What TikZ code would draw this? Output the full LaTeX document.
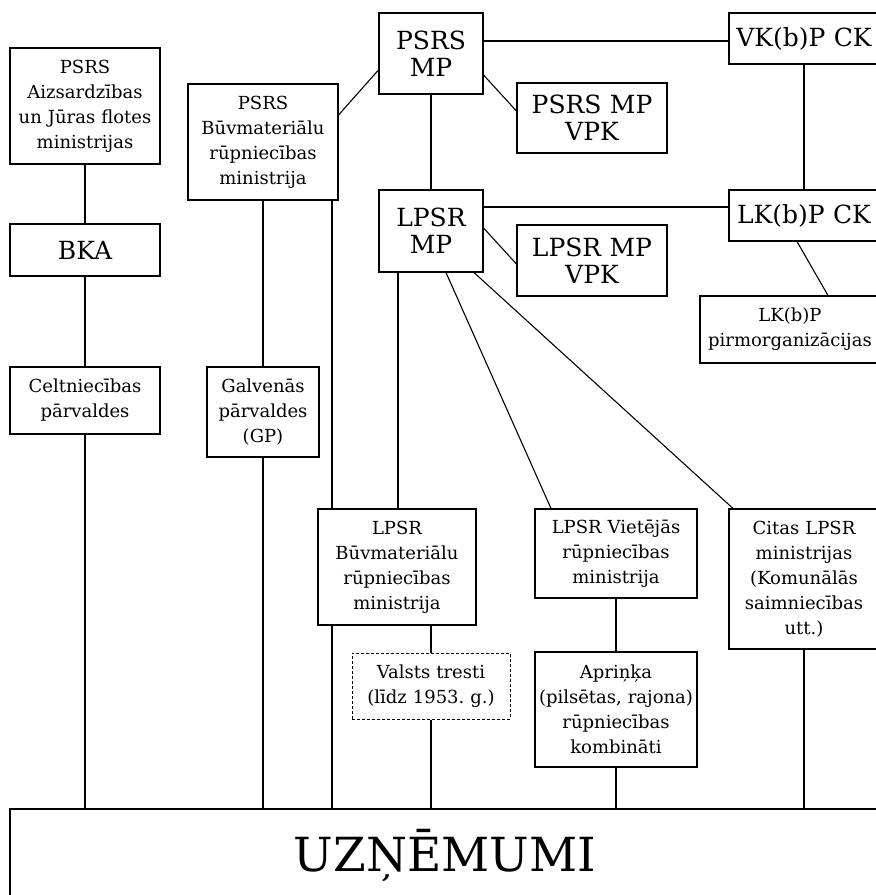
\documentclass[tikz,border=0pt]{standalone}
\usepackage{fontspec}
\setmainfont{DejaVu Serif}
\frenchspacing
\newcommand\fsmall{\fontsize{18}{25}\selectfont}
\newcommand\fbig{\fontsize{25}{27}\selectfont}
\newcommand\fhuge{\fontsize{47}{50}\selectfont}
\tikzset{
  box/.style={draw, line width=1.1pt, fill=white, inner sep=0pt, align=center, font=\fsmall},
  bigbox/.style={box, font=\fbig},
  wh/.style 2 args={minimum width=#1pt, minimum height=#2pt, text width=#1pt},
  conn/.style={line width=1.1pt},
  dbox/.style={box, line width=1pt, dash pattern=on 3pt off 2pt},
}
\begin{document}
\begin{tikzpicture}[x=1pt,y=-1pt]
\useasboundingbox (0,0) rectangle (876,895);
\clip (0,0) rectangle (876,895);
% nodes
\node[box, wh={150}{116}] (aiz) at (85,106) {PSRS\\Aizsardzības\\un Jūras flotes\\ministrijas};
\node[bigbox, wh={150}{52}] (bka) at (85,250) {BKA};
\node[box, wh={150}{67}] (celt) at (85,400.5) {Celtniecības\\pārvaldes};
\node[box, wh={150}{116}] (psbuv) at (263,142) {PSRS\\Būvmateriālu\\rūpniecības\\ministrija};
\node[box, wh={112}{90}] (galv) at (263,412) {Galvenās\\pārvaldes\\(GP)};
\node[bigbox, wh={104}{81}] (psmp) at (431,53.5) {PSRS\\MP};
\node[bigbox, wh={104}{82}] (lpmp) at (431,231) {LPSR\\MP};
\node[bigbox, wh={150}{70}] (psvpk) at (592,118) {PSRS MP\\VPK};
\node[bigbox, wh={150}{71}] (lpvpk) at (592,260.5) {LPSR MP\\VPK};
\node[bigbox, wh={150}{51}] (vk) at (804,38.5) {VK(b)P CK};
\node[bigbox, wh={150}{51}] (lk) at (804,215.5) {LK(b)P CK};
\node[box, wh={180}{67}] (pir) at (790,329.5) {LK(b)P\\pirmorganizācijas};
\node[box, wh={158}{116}] (lpbuv) at (397,567) {LPSR\\Būvmateriālu\\rūpniecības\\ministrija};
\node[dbox, wh={158}{66}] (vals) at (431,686) {Valsts tresti\\(līdz 1953. g.)};
\node[box, wh={162}{89}] (viet) at (616,553.5) {LPSR Vietējās\\rūpniecības\\ministrija};
\node[box, wh={162}{115}] (apr) at (616,709.5) {Apriņķa\\(pilsētas, rajona)\\rūpniecības\\kombināti};
\node[box, wh={150}{140}] (cit) at (804,579) {Citas LPSR\\ministrijas\\(Komunālās\\saimniecības\\utt.)};
\node[box, wh={870}{92}, font=\fhuge] (uzn) at (445,855) {UZŅĒMUMI};
% connectors
\draw[conn] (aiz) -- (bka);
\draw[conn] (bka) -- (celt);
\draw[conn] (celt) -- (celt |- uzn.north);
\draw[conn] (psbuv) -- (galv);
\draw[conn] (galv) -- (galv |- uzn.north);
\coordinate (b1) at ([xshift=69pt]psbuv.south);
\draw[conn] (b1) -- (b1 |- lpbuv.north);
\draw[conn] (b1 |- lpbuv.south) -- (b1 |- uzn.north);
\draw[conn] ([yshift=27pt]psbuv.east) -- ([yshift=-16.5pt]psmp.west);
\draw[conn] (psmp) -- (lpmp);
\coordinate (a1) at ([yshift=-2.5pt]vk.west);
\draw[conn] (a1 -| psmp.east) -- (a1);
\draw[conn] ([yshift=-21.5pt]psmp.east) -- ([yshift=7pt]psvpk.west);
\draw[conn] (vk) -- (lk);
\coordinate (a2) at ([yshift=8.5pt]lk.west);
\draw[conn] (a2 -| lpmp.east) -- (a2);
\draw[conn] ([yshift=3pt]lpmp.east) -- ([yshift=-3.5pt]lpvpk.west);
\draw[conn] ([xshift=-7pt]lk.south) -- ([xshift=38pt]pir.north);
\coordinate (c1) at ([xshift=-33pt]lpmp.south);
\draw[conn] (c1) -- (c1 |- lpbuv.north);
\draw[conn] ([xshift=15pt]lpmp.south) -- ([xshift=-65pt]viet.north);
\draw[conn] ([xshift=43pt]lpmp.south) -- ([xshift=-71pt]cit.north);
\draw[conn] ([xshift=34pt]lpbuv.south) -- (vals.north);
\draw[conn] (vals) -- (vals |- uzn.north);
\draw[conn] (viet) -- (apr);
\draw[conn] (apr) -- (apr |- uzn.north);
\draw[conn] (cit) -- (cit |- uzn.north);
\end{tikzpicture}
\end{document}
